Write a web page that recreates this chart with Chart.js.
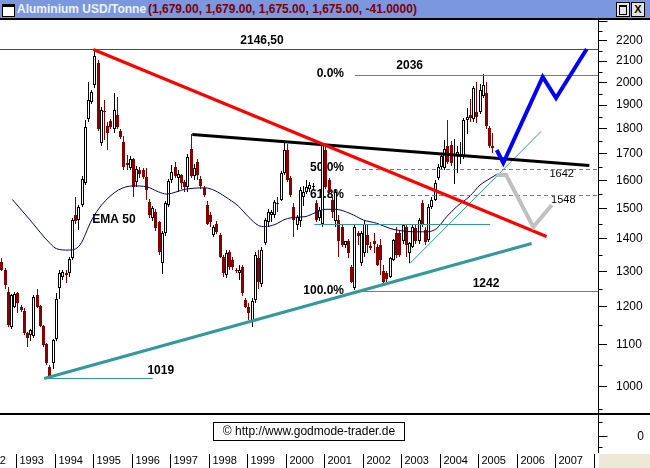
<!DOCTYPE html>
<html lang="de">
<head>
  <meta charset="UTF-8" />
  <title>Aluminium USD/Tonne</title>
  <script src="https://cdn.jsdelivr.net/npm/chart.js"></script>
  <style>
    html, body { margin: 0; padding: 0; background: #fff; }
    #wrap { position: relative; width: 650px; height: 468px; overflow: hidden; }
    #chart { position: absolute; left: 0; top: 0; }

    /* Fensterleiste oben */
    #titlebar {
      position: absolute; left: 0; top: 0; width: 650px; height: 18px;
      background: #7b97e0; border-bottom: 2px solid #000;
      font: bold 12px Arial, "Liberation Sans", sans-serif; white-space: nowrap;
    }
    #titlebar .icon {
      position: absolute; left: 2px; top: 4px; width: 11px; height: 9px;
      background: #fff; border: 1px solid #000; border-top-width: 3px;
    }
    #titlebar .ttl { position: absolute; left: 17px; top: 2px; color: #eef2ff; }
    #titlebar .val { position: absolute; left: 148px; top: 2px; color: #800000; }
    #titlebar .btn {
      position: absolute; top: 2px; width: 12px; height: 13px;
      background: #e4e4e4; border: 1px solid #000;
      font: bold 11px Arial, sans-serif; line-height: 13px; text-align: center; color: #000;
    }
    #titlebar .b1 { left: 616px; }
    #titlebar .b1 span { position: absolute; left: 2px; top: 2px; width: 6px; height: 7px; border: 1px solid #000; border-top-width: 2px; }
    #titlebar .b2 { left: 631px; }
  </style>
</head>
<body>
  <div id="wrap">
    <canvas id="chart" width="650" height="468"></canvas>
    <div id="titlebar">
      <span class="icon"></span>
      <span class="ttl">Aluminium USD/Tonne</span>
      <span class="val">(1,679.00, 1,679.00, 1,675.00, 1,675.00, -41.0000)</span>
      <span class="btn b1"><span></span></span>
      <span class="btn b2">X</span>
    </div>
  </div>

  <script>
    // Monatskerzen ab Aug 1992
    const firstYear = 1992, firstMonth = 8;
    const opens  = [1327,1304,1241,1146,1199, 1237,1199,1188,1131,1124,1122,1232,1202,1147,1102,1046,1056,
      1114,1251,1284,1294,1296,1340,1479,1462,1512,1592,1839,1914,
      1987,2093,1743,1873,1813,1832,1798,1857,1791,1745,1664,1647,
      1679,1596,1640,1639,1614,1524,1468,1490,1454,1325,1418,1513,
      1600,1651,1610,1620,1595,1577,1719,1615,1670,1605,1571,1513,
      1480,1414,1450,1413,1345,1289,1360,1335,1304,1296,1314,1218,
      1199,1159,1218,1340,1262,1386,1455,1479,1479,1520,1530,1628,
      1715,1608,1507,1445,1460,1540,1560,1570,1575,1520,1470,1450,
      1715,1600,1530,1457,1462,1440,1380,1392,1314,1252,1418,1325,
      1355,1413,1378,1392,1376,1382,1300,1294,1285,1335,1418,1418,
      1392,1440,1355,1376,1434,1392,1518,1429,1397,1507,1530,1608,
      1651,1647,1730,1734,1695,1690,1686,1686,1836,1857,1840,1870,
      1870,1939,1952,1803,1730];
    const highs  = [1340,1310,1255,1236,1241, 1240,1205,1195,1133,1140,1232,1248,1205,1150,1105,1050,1115,
      1237,1304,1305,1304,1345,1470,1541,1512,1617,1836,2004,1965,
      2160,2105,1890,1921,1830,1840,1952,1934,1800,1769,1694,1690,
      1685,1654,1650,1645,1645,1535,1510,1500,1460,1425,1525,1605,
      1657,1670,1640,1625,1600,1700,1778,1660,1680,1615,1580,1525,
      1490,1445,1460,1420,1350,1365,1365,1345,1310,1318,1320,1225,
      1210,1225,1360,1365,1375,1470,1500,1495,1530,1540,1635,1754,
      1740,1615,1520,1480,1575,1580,1600,1595,1590,1530,1505,1741,
      1735,1610,1540,1570,1480,1450,1395,1400,1320,1445,1425,1425,
      1460,1450,1390,1418,1385,1400,1320,1300,1345,1400,1440,1425,
      1450,1450,1390,1445,1445,1470,1530,1440,1515,1540,1600,1660,
      1700,1754,1836,1750,1760,1730,1745,1845,1886,1928,1985,2004,
      1995,2040,2004,1810,1784];
    const lows   = [1300,1248,1145,1140,1195, 1183,1185,1125,1094,1110,1118,1195,1145,1095,1050,1019,1040,
      1110,1222,1275,1265,1285,1335,1450,1429,1505,1585,1830,1905,
      1975,1790,1730,1754,1715,1800,1784,1800,1760,1639,1639,1640,
      1541,1577,1610,1605,1530,1470,1460,1425,1350,1292,1410,1505,
      1590,1610,1560,1570,1560,1560,1610,1600,1600,1570,1540,1445,
      1440,1405,1415,1340,1285,1280,1305,1305,1295,1275,1230,1195,
      1164,1146,1210,1250,1255,1380,1440,1455,1470,1490,1525,1620,
      1595,1540,1407,1430,1440,1510,1550,1560,1565,1455,1460,1440,
      1570,1550,1470,1440,1345,1375,1370,1340,1265,1246,1380,1315,
      1345,1355,1365,1355,1315,1290,1262,1270,1280,1330,1340,1345,
      1385,1345,1326,1370,1385,1385,1440,1380,1390,1500,1525,1600,
      1640,1640,1660,1655,1587,1628,1662,1680,1780,1829,1830,1822,
      1860,1930,1800,1722,1702];
    const closes = [1304,1261,1150,1232,1235, 1209,1192,1129,1116,1137,1226,1199,1149,1099,1054,1025,1112,
      1222,1294,1297,1289,1337,1462,1457,1507,1605,1806,1921,1957,
      2126,1798,1880,1869,1784,1806,1877,1806,1766,1651,1657,1679,
      1577,1641,1625,1612,1565,1479,1501,1434,1360,1418,1518,1597,
      1630,1615,1622,1590,1575,1686,1615,1645,1620,1580,1547,1450,
      1455,1438,1423,1345,1294,1355,1314,1312,1300,1304,1237,1199,
      1182,1216,1350,1270,1365,1462,1490,1488,1524,1515,1628,1715,
      1602,1547,1462,1473,1565,1560,1577,1583,1580,1462,1495,1734,
      1577,1558,1490,1558,1392,1382,1392,1355,1270,1439,1408,1418,
      1450,1382,1372,1385,1320,1335,1268,1279,1340,1397,1350,1350,
      1445,1382,1386,1440,1392,1462,1450,1390,1507,1530,1591,1651,
      1690,1718,1670,1663,1701,1706,1700,1836,1850,1843,1975,1850,
      1967,1987,1810,1730,1723];

    // EMA 50
    const emaYears  = [1992.896,1993.356,1993.875,1994.049,1994.350,1994.654,1994.958,1995.218,1995.649,1996.038,
      1996.386,1996.687,1996.905,1997.381,1997.900,1998.160,1998.420,1998.765,1999.024,1999.284,1999.458,
      1999.718,1999.978,2000.238,2000.497,2000.757,2001.017,2001.277,2001.666,2002.011,2002.359,2002.704,
      2002.964,2003.309,2003.657,2003.917,2004.176,2004.436,2004.781,2005.041,2005.301,2005.475];
    const emaValues = [1532,1462,1386,1369,1365,1381,1462,1513,1565,1580,
      1577,1559,1551,1568,1573,1563,1542,1509,1473,1444,1440,
      1447,1464,1471,1473,1486,1498,1498,1484,1462,1451,1434,
      1427,1423,1423,1434,1473,1507,1544,1583,1607,1622];

    // Trendlinien und Marken
    const topLevel = 2160;
    const redTrendYears = [1995.0, 2006.77],     redTrendValues = [2158, 1409];
    const blackTrendYears = [1997.57, 2007.88],  blackTrendValues = [1778, 1657];
    const tealTrendYears = [1993.727, 2006.38],  tealTrendValues = [1019, 1386];
    const lowLineYears = [1993.727, 1996.54],    lowLineValues = [1019, 1019];
    const midLineYears = [2000.738, 2005.301],   midLineValues = [1450, 1450];
    const thinTrendYears = [2003.22, 2006.625],  thinTrendValues = [1326, 1792];
    const fibStart = 2001.795;
    const fibLevels = [2036, 1642, 1548, 1242];
    const blueYears = [2005.475, 2005.646, 2006.669, 2007.015, 2007.812];
    const blueValues = [1715, 1663, 2027, 1929, 2158];
    const greyYears = [2005.475, 2005.717, 2006.425, 2006.903];
    const greyValues = [1620, 1620, 1440, 1512];

    const yLabels = [1000,1100,1200,1300,1400,1500,1600,1700,1800,1900,2000,2100,2200];
    const yMinor = [950,1050,1150,1250,1350,1450,1550,1650,1750,1850,1950,2050,2150,2250,2300];
    const years = [1992,1993,1994,1995,1996,1997,1998,1999,2000,2001,2002,2003,2004,2005,2006,2007,2008];

    const notes = [
      { text: '2146,50', x: 1999.38, y: 2198, font: 'bold 12px Arial', align: 'center' },
      { text: '0.0%',    x: 2001.51, y: 2039, font: 'bold 12px Arial', align: 'right' },
      { text: '2036',    x: 2003.215, y: 2077, font: 'bold 12px Arial', align: 'center' },
      { text: '50.0%',   x: 2001.51, y: 1646, font: 'bold 12px Arial', align: 'right' },
      { text: '61.8%',   x: 2001.51, y: 1549, font: 'bold 12px Arial', align: 'right' },
      { text: '100.0%',  x: 2001.51, y: 1245, font: 'bold 12px Arial', align: 'right' },
      { text: '1642',    x: 2007.163, y: 1624, font: '11px Arial', align: 'center' },
      { text: '1548',    x: 2007.204, y: 1530, font: '11px Arial', align: 'center' },
      { text: '1242',    x: 2005.197, y: 1263, font: 'bold 12px Arial', align: 'center' },
      { text: '1019',    x: 1996.752, y: 1036, font: 'bold 12px Arial', align: 'center' },
      { text: 'EMA 50',  x: 1995.537, y: 1462, font: 'bold 12px Arial', align: 'center' }
    ];

    const downColor = '#880000';
    const teal = '#339999';
    const xMin = 1992.577, xMax = 2008.105;

    const monthPos = opens.map((_, i) => firstYear + (firstMonth - 1 + i + 0.5) / 12);
    const isUp = opens.map((o, i) => closes[i] >= o);
    const pts = (xs, ys) => xs.map((x, i) => ({ x: x, y: ys[i] }));

    function lineSet(data, color, width, extra) {
      return Object.assign({
        type: 'line', data: data, borderColor: color, borderWidth: width,
        pointRadius: 0, fill: false, tension: 0, order: 0
      }, extra || {});
    }

    const datasets = [
      lineSet(pts(blueYears, blueValues), '#0000ff', 4),
      lineSet(pts(greyYears, greyValues), '#c0c0c0', 4),
      lineSet(pts(redTrendYears, redTrendValues), '#ff0000', 3),
      lineSet(pts(blackTrendYears, blackTrendValues), '#000000', 3),
      lineSet(pts(tealTrendYears, tealTrendValues), teal, 3),
      lineSet(pts([xMin, xMax], [topLevel, topLevel]), '#ff0000', 1),
      lineSet(pts(lowLineYears, lowLineValues), teal, 1),
      lineSet(pts(midLineYears, midLineValues), teal, 1),
      lineSet(pts(thinTrendYears, thinTrendValues), teal, 1),
      lineSet(pts([fibStart, xMax], [fibLevels[0], fibLevels[0]]), teal, 1),
      lineSet(pts([fibStart, xMax], [fibLevels[1], fibLevels[1]]), teal, 1, { borderDash: [4, 3] }),
      lineSet(pts([fibStart, xMax], [fibLevels[2], fibLevels[2]]), teal, 1, { borderDash: [4, 3] }),
      lineSet(pts([fibStart + 0.02, xMax], [fibLevels[3], fibLevels[3]]), teal, 1),
      lineSet(pts(emaYears, emaValues), '#000080', 1, { cubicInterpolationMode: 'monotone' }),
      {
        type: 'bar', order: 1, grouped: false, barThickness: 3,
        data: monthPos.map((t, i) => ({ x: t, y: [Math.min(opens[i], closes[i]), Math.max(opens[i], closes[i])] })),
        backgroundColor: isUp.map(u => u ? '#ffffff' : downColor),
        borderColor: isUp.map(u => u ? '#000000' : downColor),
        borderWidth: 1, borderSkipped: false, inflateAmount: 0
      },
      {
        type: 'bar', order: 2, grouped: false, barThickness: 1,
        data: monthPos.map((t, i) => ({ x: t, y: [lows[i], highs[i]] })),
        backgroundColor: isUp.map(u => u ? '#000000' : downColor),
        borderWidth: 0, inflateAmount: 0
      }
    ];

    const textFont = 'Arial, "Liberation Sans", sans-serif';

    // Kerzen und gerade Linien aufs Pixelraster legen (scharfe Kanten)
    const snapPlugin = {
      id: 'snap',
      afterDatasetsUpdate(chart) {
        chart.data.datasets.forEach((ds, i) => {
          const els = chart.getDatasetMeta(i).data;
          if (ds.type === 'bar') {
            els.forEach(el => {
              el.x = Math.floor(el.x) + 0.5;
              el.y = Math.round(el.y);
              el.base = Math.round(el.base);
            });
          } else if (!ds.cubicInterpolationMode) {
            const odd = ds.borderWidth % 2 === 1;
            els.forEach(el => { el.y = Math.round(el.y) + (odd ? 0.5 : 0); });
          }
        });
      }
    };

    // Beschriftungen im Chart
    const notesPlugin = {
      id: 'notes',
      beforeDatasetsDraw(chart) {
        const { ctx, scales: { x, y } } = chart;
        ctx.save();
        ctx.fillStyle = '#000';
        ctx.textBaseline = 'middle';
        notes.forEach(n => {
          ctx.font = n.font.replace('Arial', textFont);
          ctx.textAlign = n.align;
          ctx.fillText(n.text, x.getPixelForValue(n.x), y.getPixelForValue(n.y));
        });
        ctx.restore();
      }
    };

    // Achsen-Extras, unteres Panel, Jahreszeile
    const framePlugin = {
      id: 'frame',
      afterDraw(chart) {
        const { ctx, chartArea: a, scales: { x, y } } = chart;
        const W = chart.width, H = chart.height;
        const ax = Math.round(a.right) + 0.5;
        ctx.save();
        ctx.strokeStyle = '#000';
        ctx.lineWidth = 1;

        // kleine Ticks
        ctx.beginPath();
        yMinor.forEach(v => {
          const py = Math.round(y.getPixelForValue(v)) + 0.5;
          if (py < a.top || py > a.bottom) return;
          ctx.moveTo(ax, py);
          ctx.lineTo(ax + (v === 2300 ? 9 : 4), py);
        });
        ctx.stroke();

        // Trenner zwischen den Panels
        const divY = Math.round(a.bottom);
        ctx.fillStyle = '#000';
        ctx.fillRect(0, divY, W, 2);

        // unteres Panel
        const rowTop = 453;
        ctx.beginPath();
        ctx.moveTo(ax, divY + 2); ctx.lineTo(ax, rowTop);
        [[422.5, 4], [436.5, 9], [447.5, 4]].forEach(([py, len]) => {
          ctx.moveTo(ax, py); ctx.lineTo(ax + len, py);
        });
        ctx.stroke();
        ctx.font = '12px ' + textFont;
        ctx.textAlign = 'right';
        ctx.textBaseline = 'middle';
        ctx.fillText('0', 644, 437);

        // Copyright-Box
        ctx.fillStyle = '#fff';
        ctx.fillRect(213.5, 422.5, 191, 18);
        ctx.strokeRect(213.5, 422.5, 191, 18);
        ctx.fillStyle = '#000';
        ctx.textAlign = 'center';
        ctx.fillText('\u00A9 http://www.godmode-trader.de', 309, 432);

        // Jahreszeile
        ctx.save();
        ctx.beginPath();
        ctx.rect(0, rowTop, a.right, H - rowTop);
        ctx.clip();
        ctx.font = '11px ' + textFont;
        ctx.textAlign = 'left';
        ctx.beginPath();
        years.forEach(yr => {
          const px = Math.round(x.getPixelForValue(yr)) + 0.5;
          ctx.moveTo(px, rowTop + 1);
          ctx.lineTo(px, H);
          ctx.fillText(String(yr), px + 3, 461);
        });
        ctx.stroke();
        ctx.restore();

        ctx.fillStyle = '#ece9d8';
        ctx.fillRect(a.right + 1, rowTop + 1, W - a.right, H - rowTop);
        ctx.restore();
      }
    };

    new Chart(document.getElementById('chart'), {
      type: 'bar',
      data: { datasets: datasets },
      plugins: [snapPlugin, notesPlugin, framePlugin],
      options: {
        responsive: false,
        animation: false,
        events: [],
        layout: { padding: { top: 20, bottom: 55.5, left: 0, right: 0 } },
        plugins: { legend: { display: false }, tooltip: { enabled: false } },
        scales: {
          x: { type: 'linear', min: xMin, max: xMax, offset: false, display: false },
          y: {
            type: 'logarithmic', position: 'right', min: 942.5, max: 2306.6,
            afterBuildTicks: s => { s.ticks = yLabels.map(v => ({ value: v })); },
            afterFit: s => { s.width = 52; },
            grid: { drawOnChartArea: false, drawTicks: true, tickLength: 9, color: '#000' },
            border: { display: true, color: '#000', width: 1 },
            ticks: {
              color: '#000', padding: 9, autoSkip: false,
              font: { family: textFont, size: 12 },
              callback: v => String(v)
            }
          }
        }
      }
    });
  </script>
</body>
</html>
